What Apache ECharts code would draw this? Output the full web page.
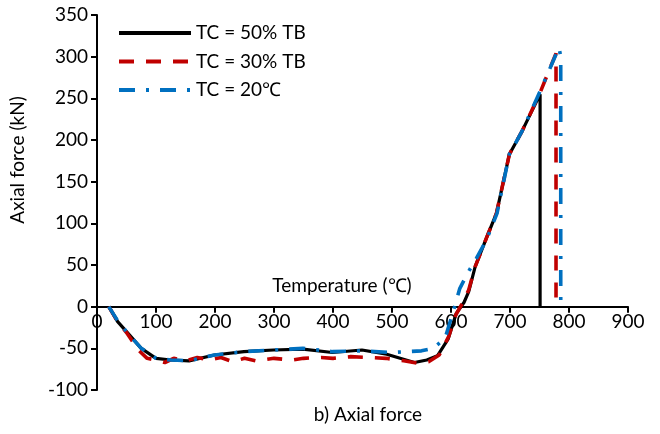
<!DOCTYPE html>
<html><head><meta charset="utf-8">
<script src="https://cdn.jsdelivr.net/npm/echarts@6/dist/echarts.min.js"></script>
<style>html,body{margin:0;padding:0;background:#fff}#c{width:660px;height:434px}</style>
</head><body><div id="c"></div>
<script>
const seriesNames = ['TC = 50% TB', 'TC = 30% TB', 'TC = 20℃'];
const tc50 = [[20,0],[35,-18],[50,-30],[75,-50],[100,-62],[125,-64],[156,-65],[199,-58],[249,-54],[299,-52],[349,-51],[399,-55],[449,-52],[491,-57],[538,-67],[559,-64],[577,-59],[595,-39],[609,-8],[622,5],[630,18],[641,48],[661,84],[677,112],[699,183],[720,210],[751,255],[751,0]];
const tc30 = [[20,0],[35,-18],[50,-31],[70,-52],[85,-62],[100,-64],[115,-67],[130,-62],[150,-65],[170,-61],[190,-64],[210,-61],[230,-66],[250,-62],[270,-65],[300,-62],[330,-64],[350,-62],[380,-61],[400,-62],[430,-60],[460,-61],[490,-62],[520,-65],[545,-68],[562,-66],[580,-58],[596,-36],[608,-10],[620,5],[630,20],[641,48],[661,84],[677,112],[699,183],[720,210],[750,255],[778,304],[778,3]];
const tc20 = [[20,0],[35,-17],[50,-30],[75,-50],[100,-62],[125,-64],[156,-65],[199,-58],[249,-54],[299,-52],[349,-50],[399,-54],[449,-53],[500,-55],[550,-53],[570,-50],[590,-38],[602,-10],[615,22],[628,40],[643,58],[660,80],[678,112],[699,183],[720,210],[752,260],[783,311],[786,300],[786,5]];
const xTicks = {min:0, max:900, interval:100};
const yTicks = {min:-100, max:350, interval:50};

const chart = echarts.init(document.getElementById('c'), null, {renderer:'canvas'});
const font = 'Lato';
const gridTop = 15, gridBottom = 44, H = 434;
const plotH = H - gridTop - gridBottom;
const zeroOffset = -plotH * (0 - yTicks.min) / (yTicks.max - yTicks.min);
const axisCommon = {
  axisLine:{show:true, onZero:false, lineStyle:{color:'#000', width:2}},
  axisTick:{show:true, inside:false, length:6, lineStyle:{color:'#000', width:2}},
  splitLine:{show:false},
  axisLabel:{color:'#000', fontFamily:font, fontSize:19}
};
chart.setOption({
  animation:false,
  backgroundColor:'#fff',
  grid:{left:97, right:32, top:gridTop, bottom:gridBottom, containLabel:false},
  legend:{
    orient:'vertical', left:112, top:18, itemWidth:72, itemHeight:20, itemGap:8.5,
    itemStyle:{opacity:0},
    lineStyle:{width:4},
    textStyle:{fontFamily:font, fontSize:19, color:'#000', lineHeight:20},
    data:seriesNames
  },
  xAxis:Object.assign({type:'value', position:'bottom', offset:zeroOffset, min:xTicks.min, max:xTicks.max, interval:xTicks.interval}, axisCommon,
    {axisLabel:Object.assign({}, axisCommon.axisLabel, {margin:6})}),
  yAxis:Object.assign({type:'value', min:yTicks.min, max:yTicks.max, interval:yTicks.interval}, axisCommon,
    {axisLabel:Object.assign({}, axisCommon.axisLabel, {margin:9})}),
  graphic:[
    {type:'text', style:{text:'Temperature (℃)', x:342, y:286, align:'center', verticalAlign:'middle', font:'19px Lato', fill:'#000'}},
    {type:'text', rotation:Math.PI/2, x:18, y:160, style:{text:'Axial force (kN)', align:'center', verticalAlign:'middle', font:'19px Lato', fill:'#000'}},
    {type:'text', style:{text:'b) Axial force', x:368, y:415, align:'center', verticalAlign:'middle', font:'19px Lato', fill:'#000'}}
  ],
  series:[
    {name:seriesNames[0], type:'line', data:tc50, symbol:'none', smooth:false, z:3,
     lineStyle:{color:'#000', width:3.2}, itemStyle:{color:'#000'}},
    {name:seriesNames[1], type:'line', data:tc30, symbol:'none', z:4,
     lineStyle:{color:'#C00000', width:3.6, type:[15,12]}, itemStyle:{color:'#C00000'}},
    {name:seriesNames[2], type:'line', data:tc20, symbol:'none', z:5,
     lineStyle:{color:'#0070C0', width:3.6, type:[16,11,3,11]}, itemStyle:{color:'#0070C0'}}
  ]
});
</script></body></html>
